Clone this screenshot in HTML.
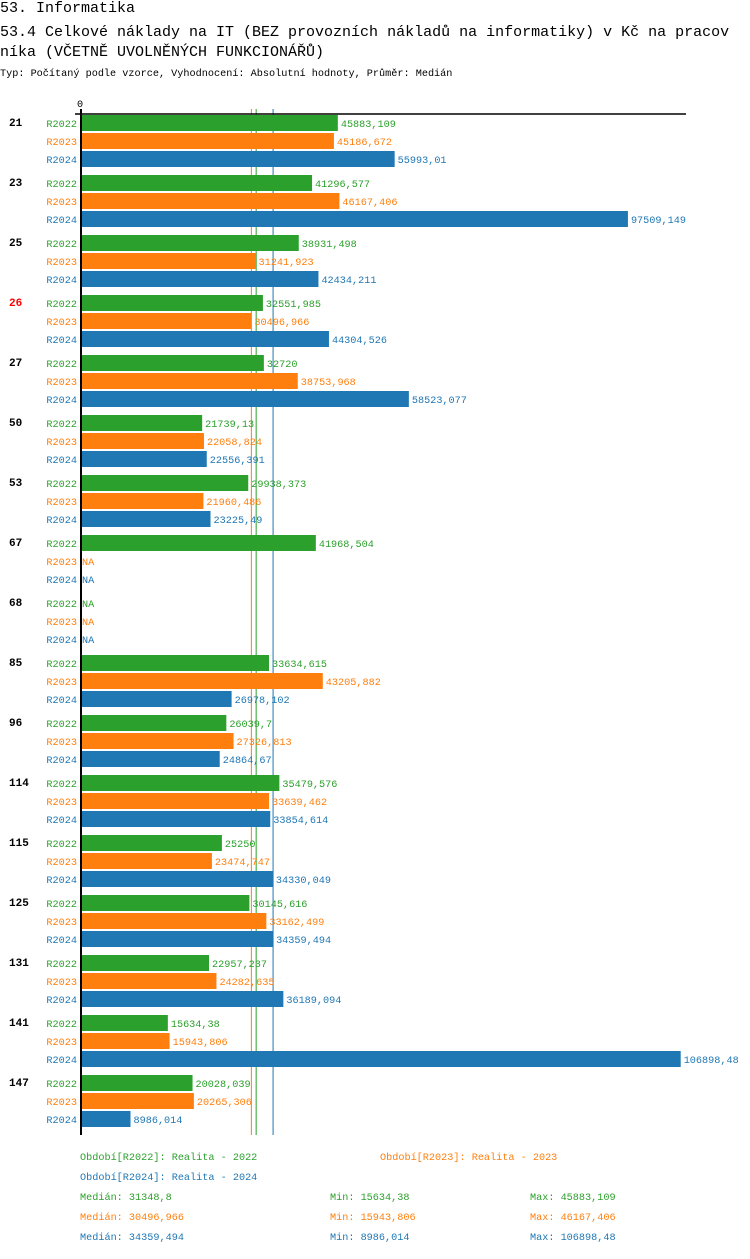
<!DOCTYPE html>
<html><head><meta charset="utf-8"><style>
body{margin:0;background:#fff;width:750px;height:1254px;overflow:hidden;font-family:"Liberation Mono",monospace}
svg text{font-family:"Liberation Mono",monospace}
</style></head><body>
<svg id="c" width="750" height="1254" xmlns="http://www.w3.org/2000/svg">
<text x="0" y="12" font-size="15">53. Informatika</text>
<text x="0" y="36" font-size="15">53.4 Celkové náklady na IT (BEZ provozních nákladů na informatiky) v Kč na pracov</text>
<text x="0" y="56" font-size="15">níka (VČETNĚ UVOLNĚNÝCH FUNKCIONÁŘŮ)</text>
<text x="0" y="76" font-size="10.2">Typ: Počítaný podle vzorce, Vyhodnocení: Absolutní hodnoty, Průměr: Medián</text>
<g id="plot"></g>
</svg>
<script>
const categories=["21","23","25","26","27","50","53","67","68","85","96","114","115","125","131","141","147"];
const series=["R2022","R2023","R2024"];
const r2022=[45883.109,41296.577,38931.498,32551.985,32720,21739.13,29938.373,41968.504,null,33634.615,26039.7,35479.576,25250,30145.616,22957.237,15634.38,20028.039];
const r2023=[45186.672,46167.406,31241.923,30496.966,38753.968,22058.824,21960.486,null,null,43205.882,27326.813,33639.462,23474.747,33162.499,24282.635,15943.806,20265.306];
const r2024=[55993.01,97509.149,42434.211,44304.526,58523.077,22556.391,23225.49,null,null,26978.102,24864.67,33854.614,34330.049,34359.494,36189.094,106898.48,8986.014];
const medians=[31348.8,30496.966,34359.494];
const mins=["15634,38","15943,806","8986,014"];
const maxs=["45883,109","46167,406","106898,48"];
const medianLabels=["31348,8","30496,966","34359,494"];
const periods=["Období[R2022]: Realita - 2022","Období[R2023]: Realita - 2023","Období[R2024]: Realita - 2024"];
const colors=["#2ca02c","#ff7f0e","#1f77b4"];
const data=[r2022,r2023,r2024];
const NS="http://www.w3.org/2000/svg";
const g=document.getElementById('plot');
const x0=80,scale=(680.7-80)/106898.48;
const xs=v=>x0+v*scale;
const yTop=114,groupH=60,barStep=18,barH=16;
function mk(t,a){const e=document.createElementNS(NS,t);for(const k in a)e.setAttribute(k,a[k]);g.appendChild(e);return e;}
function fmt(v){return String(v).replace('.',',');}
medians.forEach((m,i)=>{
 const l=mk('line',{x1:xs(m),x2:xs(m),y1:109,y2:1135,stroke:colors[i],'stroke-width':1});
 
 
});
categories.forEach((c,ci)=>{
 const gy=yTop+ci*groupH;
 const t=mk('text',{x:9,y:gy+12,'font-size':11,'font-weight':'bold',fill:c==="26"?"#ff0000":"#000"});
 t.textContent=c;
 
 
 series.forEach((s,si)=>{
  const by=gy+1+si*barStep;
  const sl=mk('text',{x:77,y:by+12,'font-size':10.2,fill:colors[si],'text-anchor':'end'});
  sl.textContent=s;
  
  
  const v=data[si][ci];
  let endX=82;
  if(v!==null){
   const r=mk('rect',{x:x0,y:by,width:xs(v)-x0,height:barH,fill:colors[si]});
   
   
   endX=xs(v)+3;
  }
  const vl=mk('text',{x:endX,y:by+12,'font-size':10.2,fill:colors[si]});
  vl.textContent=v===null?"NA":fmt(v);
  
  
 });
});
const ax=mk('line',{x1:75,x2:686,y1:114,y2:114,stroke:'#000','stroke-width':1.5});


const ay=mk('line',{x1:81,x2:81,y1:109,y2:1135,stroke:'#000','stroke-width':2});


const z=mk('text',{x:80,y:107,'font-size':10.2,'text-anchor':'middle'});
z.textContent="0";


const lp=[[80,1160],[380,1160],[80,1180]];
periods.forEach((p,i)=>{
 const t=mk('text',{x:lp[i][0],y:lp[i][1],'font-size':10.2,fill:colors[i]});
 t.textContent=p;
 
 
});
series.forEach((s,i)=>{
 const y=1200+i*20;
 [[80,"Medián: "+medianLabels[i]],[330,"Min: "+mins[i]],[530,"Max: "+maxs[i]]].forEach(([x,txt],k)=>{
  const t=mk('text',{x:x,y:y,'font-size':10.2,fill:colors[i]});
  t.textContent=txt;
  
  
 });
});
</script>
</body></html>
